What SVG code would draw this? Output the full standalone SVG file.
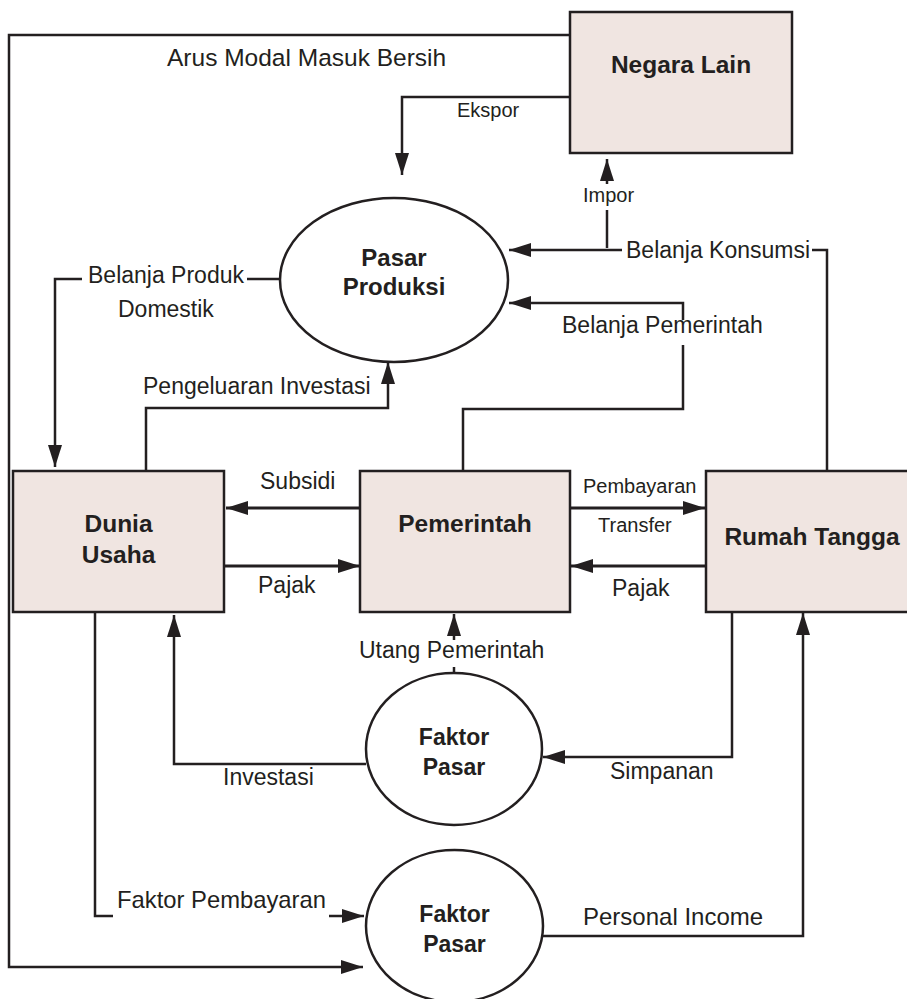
<svg xmlns="http://www.w3.org/2000/svg" width="907" height="999" viewBox="0 0 907 999">
<defs>
<marker id="arr" markerUnits="userSpaceOnUse" markerWidth="22" markerHeight="14" refX="22" refY="7" orient="auto" overflow="visible">
<path d="M0,0 L22,7 L0,14 z" fill="#231f20"/>
</marker>
<style>
.ln{fill:none;stroke:#231f20;stroke-width:2.5}
.ar{fill:none;stroke:#231f20;stroke-width:2.5;marker-end:url(#arr)}
.box{fill:#f0e5e1;stroke:#231f20;stroke-width:2.5}
.ell{fill:#ffffff;stroke:#231f20;stroke-width:2.5}
.t{font-family:"Liberation Sans",Arial,sans-serif;font-size:23px;fill:#231f20}
.s{font-family:"Liberation Sans",Arial,sans-serif;font-size:20px;fill:#231f20}
.b{font-family:"Liberation Sans",Arial,sans-serif;font-size:24.5px;font-weight:bold;fill:#231f20;text-anchor:middle}
</style>
</defs>
<rect width="907" height="999" fill="#ffffff"/>
<g id="connectors">
<path class="ar" d="M570,35 H9 V967 H363"/>
<path class="ar" d="M570,97 H402 V175"/>
<path class="ln" d="M607,248 V210"/>
<path class="ar" d="M607,184 V159"/>
<path class="ln" d="M827,471 V250 H812"/>
<path class="ar" d="M622,250 H509"/>
<path class="ln" d="M463,471 V409 H683 V345"/>
<path class="ar" d="M683,320 V303 H509"/>
<path class="ln" d="M280,279 H247"/>
<path class="ar" d="M82,279 H55 V467"/>
<path class="ar" d="M146,471 V408 H388 V362"/>
<path class="ar" d="M360,508 H226" style="stroke-width:3"/>
<path class="ar" d="M224,566 H360" style="stroke-width:3"/>
<path class="ar" d="M570,508 H705" style="stroke-width:3"/>
<path class="ar" d="M706,566 H571" style="stroke-width:3"/>
<path class="ln" d="M454,673 V667"/>
<path class="ar" d="M454,640 V614"/>
<path class="ar" d="M366,764 H174 V615"/>
<path class="ar" d="M732,612 V757 H543"/>
<path class="ln" d="M95,612 V916 H113"/>
<path class="ar" d="M329,916 H364"/>
<path class="ar" d="M543,936 H803 V613"/>
</g>
<g id="labels">
<text class="t" x="167" y="66" style="font-size:24.5px">Arus Modal Masuk Bersih</text>
<text class="s" x="457" y="117">Ekspor</text>
<text class="s" x="583" y="202">Impor</text>
<text class="t" x="626" y="258">Belanja Konsumsi</text>
<text class="t" x="562" y="333">Belanja Pemerintah</text>
<text class="t" x="88" y="283">Belanja Produk</text>
<text class="t" x="118" y="317">Domestik</text>
<text class="t" x="143" y="394">Pengeluaran Investasi</text>
<text class="t" x="260" y="489">Subsidi</text>
<text class="t" x="258" y="593">Pajak</text>
<text class="s" x="583" y="493">Pembayaran</text>
<text class="s" x="598" y="532">Transfer</text>
<text class="t" x="612" y="596">Pajak</text>
<text class="t" x="359" y="658">Utang Pemerintah</text>
<text class="t" x="223" y="785">Investasi</text>
<text class="t" x="610" y="779">Simpanan</text>
<text class="t" x="117" y="908" style="font-size:23.8px">Faktor Pembayaran</text>
<text class="t" x="583" y="925" style="font-size:24px">Personal Income</text>
</g>
<g id="negara-lain">
<rect class="box" x="570" y="12" width="222" height="141"/>
<text class="b" x="681" y="73">Negara Lain</text>
</g>
<g id="pasar-produksi">
<ellipse class="ell" cx="394" cy="280" rx="114" ry="82"/>
<text class="b" x="394" y="266" style="font-size:24px">Pasar</text>
<text class="b" x="394" y="295" style="font-size:24px">Produksi</text>
</g>
<g id="dunia-usaha">
<rect class="box" x="13" y="471" width="211" height="141"/>
<text class="b" x="118.5" y="532">Dunia</text>
<text class="b" x="118.5" y="563">Usaha</text>
</g>
<g id="pemerintah">
<rect class="box" x="360" y="471" width="210" height="141"/>
<text class="b" x="465" y="532">Pemerintah</text>
</g>
<g id="rumah-tangga">
<rect class="box" x="706" y="471" width="206" height="141"/>
<text class="b" x="812" y="545">Rumah Tangga</text>
</g>
<g id="faktor-pasar-1">
<ellipse class="ell" cx="454" cy="749" rx="88" ry="76"/>
<text class="b" x="454" y="745" style="font-size:23px">Faktor</text>
<text class="b" x="454" y="775" style="font-size:23px">Pasar</text>
</g>
<g id="faktor-pasar-2">
<ellipse class="ell" cx="454.5" cy="926" rx="88.5" ry="76"/>
<text class="b" x="454.5" y="922" style="font-size:23px">Faktor</text>
<text class="b" x="454.5" y="952" style="font-size:23px">Pasar</text>
</g>
</svg>
